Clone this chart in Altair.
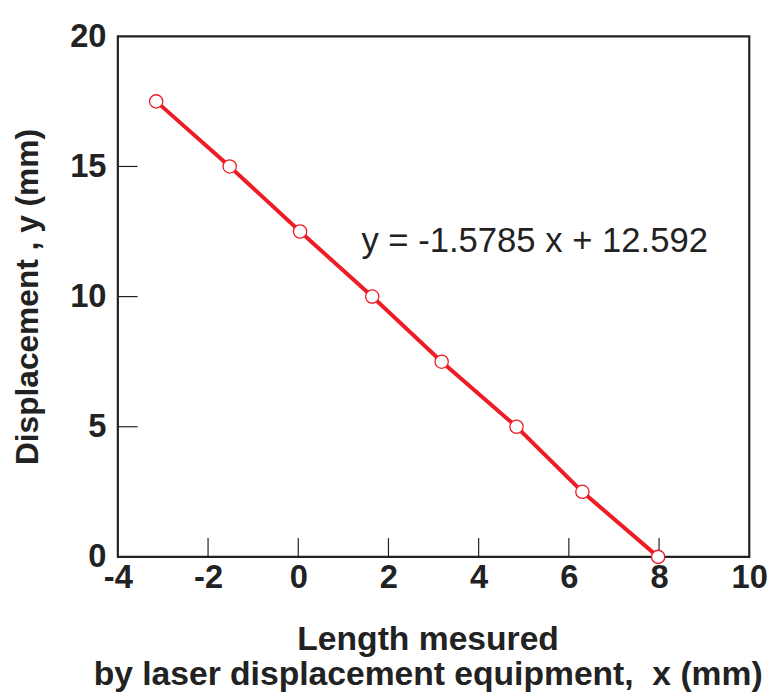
import altair as alt
import pandas as pd

# Data
x_vals = [-3.15, -1.52, 0.04, 1.64, 3.18, 4.84, 6.30, 7.98]
y_vals = [17.5, 15.0, 12.5, 10.0, 7.5, 5.0, 2.5, 0.0]
x_ticks = [-2, 0, 2, 4, 6, 8]
y_ticks = [5, 10, 15]
equation = "y = -1.5785 x + 12.592"

RED = "#ee1c25"
INK = "#222222"
FONT = "Liberation Sans"

df = pd.DataFrame({"x": x_vals, "y": y_vals})
xt = pd.DataFrame({"v": x_ticks})
yt = pd.DataFrame({"v": y_ticks})
ann = pd.DataFrame({"x": [1.4], "y": [11.72], "t": [equation]})

xscale = alt.Scale(domain=[-4, 10], nice=False, zero=False)
yscale = alt.Scale(domain=[0, 20], nice=False, zero=False)

xaxis = alt.Axis(
    values=[-4, -2, 0, 2, 4, 6, 8, 10], ticks=False, grid=False, domain=False,
    labelExpr="datum.value",
    labelFont=FONT, labelFontWeight="bold", labelFontSize=33, labelColor=INK,
    labelPadding=5, labelFlush=False,
    title=["Length mesured", "by laser displacement equipment,\u00a0 x (mm)"],
    titleFont=FONT, titleFontWeight="bold", titleFontSize=34, titleColor=INK,
    titleLineHeight=35, titlePadding=29, titleX=313,
)
yaxis = alt.Axis(
    values=[0, 5, 10, 15, 20], ticks=False, grid=False, domain=False,
    labelFont=FONT, labelFontWeight="bold", labelFontSize=33, labelColor=INK,
    labelPadding=12, labelFlush=False,
    title="Displacement , y (mm)",
    titleFont=FONT, titleFontWeight="bold", titleFontSize=32, titleColor=INK,
    titlePadding=25,
)

line = alt.Chart(df).mark_line(color=RED, strokeWidth=4).encode(
    x=alt.X("x:Q", scale=xscale, axis=xaxis),
    y=alt.Y("y:Q", scale=yscale, axis=yaxis),
)
pts = alt.Chart(df).mark_point(
    shape="circle", filled=True, fill="white", stroke=RED, strokeWidth=1.3,
    size=180, opacity=1,
).encode(x=alt.X("x:Q", scale=xscale), y=alt.Y("y:Q", scale=yscale))

xt_marks = alt.Chart(xt).mark_rule(color=INK, strokeWidth=1.2).encode(
    x=alt.X("v:Q", scale=xscale), y=alt.value(526), y2=alt.value(507)
)
yt_marks = alt.Chart(yt).mark_rule(color=INK, strokeWidth=1.2).encode(
    y=alt.Y("v:Q", scale=yscale), x=alt.value(0), x2=alt.value(20)
)
text = alt.Chart(ann).mark_text(
    align="left", baseline="alphabetic", font=FONT, fontSize=35, color=INK,
).encode(x=alt.X("x:Q", scale=xscale), y=alt.Y("y:Q", scale=yscale), text="t:N")

chart = alt.layer(xt_marks, yt_marks, line, pts, text).properties(
    width=638, height=526,
    background="white",
    autosize=alt.AutoSizeParams(type="none"),
    padding={"left": 111, "top": 25, "right": 25, "bottom": 140},
).configure_view(stroke=INK, strokeWidth=2.2)

chart.save("out.html", embed_options={"renderer": "svg", "actions": False})
